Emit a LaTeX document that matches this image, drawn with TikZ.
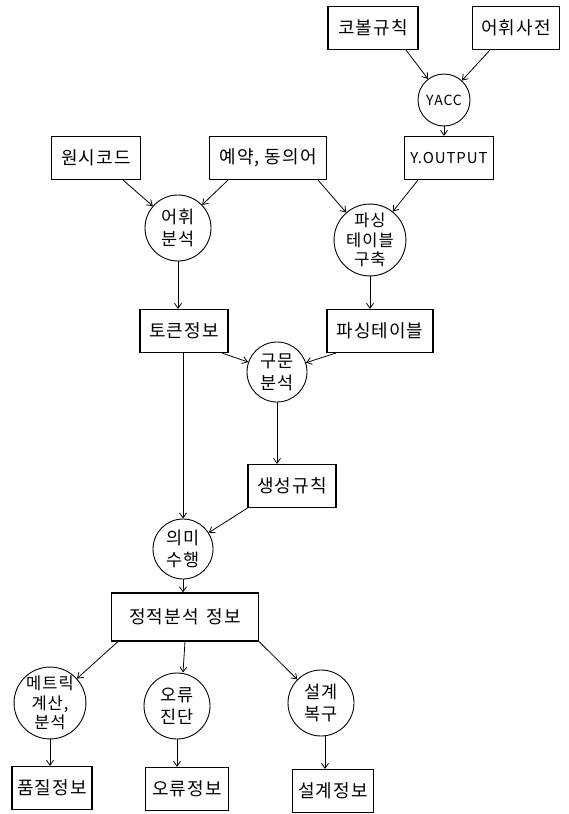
\documentclass[tikz,border=0pt]{standalone}
\usepackage{fontspec}
\setmainfont[LetterSpace=6]{Noto Sans CJK KR}
\usetikzlibrary{arrows.meta}
\tikzset{
  box/.style={draw, line width=1.1pt, inner sep=0pt, minimum height=43pt, font=\fontsize{18}{20}\selectfont},
  circ/.style={draw, circle, line width=0.9pt, inner sep=0pt, align=center, font=\fontsize{17.5}{22}\selectfont},
  arr/.style={-{Straight Barb[length=5pt,width=7pt]}, line width=0.8pt}
}
\begin{document}
\begin{tikzpicture}[x=1pt,y=-1pt]
\useasboundingbox (0,0) rectangle (568,814);
\node[box, minimum width=90pt] (kobol) at (373,28) {코볼규칙};
\node[box, minimum width=87pt] (dict) at (516,28) {어휘사전};
\node[circ, minimum size=52pt, font=\fontsize{14}{15}\selectfont] (yacc) at (444,100) {YACC};
\node[box, minimum width=89pt, font=\fontsize{15}{17}\selectfont] (yout) at (449,158) {Y.OUTPUT};
\node[box, minimum width=89pt] (src) at (96,158) {원시코드};
\node[box, minimum width=117pt] (resv) at (268,158) {예약, 동의어};
\node[circ, minimum size=66pt] (lex) at (178,228) {어휘\\분석};
\node[circ, minimum size=68pt, font=\fontsize{16.5}{19.5}\selectfont] (ptb) at (370,240) {파싱\\테이블\\구축};
\node[box, minimum width=88pt] (tok) at (184,331) {토큰정보};
\node[box, minimum width=106pt] (ptab) at (380,331) {파싱테이블};
\node[circ, minimum size=60pt] (syn) at (277,372) {구문\\분석};
\node[box, minimum width=88pt] (prod) at (292,486) {생성규칙};
\node[circ, minimum size=60pt] (sem) at (183,549) {의미\\수행};
\node[box, minimum width=147pt, minimum height=48pt] (sta) at (185,617) {정적분석\hspace{8pt}정보};
\node[circ, minimum size=66pt, font=\fontsize{16.5}{19.5}\selectfont] (met) at (50,703) {메트릭\\계산,\\분석};
\node[circ, minimum size=66pt] (err) at (177,706) {오류\\진단};
\node[circ, minimum size=66pt] (des) at (321,703) {설계\\복구};
\node[box, minimum width=80pt] (q) at (52,788) {품질정보};
\node[box, minimum width=83pt] (ei) at (187,789) {오류정보};
\node[box, minimum width=81pt] (di) at (333,791) {설계정보};

\draw[arr] ([xshift=33pt]kobol.south) -- (yacc);
\draw[arr] ([xshift=-26pt]dict.south) -- (yacc);
\draw[arr] (yacc.south) -- (yacc.south |- yout.north);
\draw[arr] ([xshift=27pt]src.south) -- (lex);
\draw[arr] ([xshift=-40pt]resv.south) -- (lex);
\draw[arr] ([xshift=50pt]resv.south) -- (ptb);
\draw[arr] ([xshift=-31pt]yout.south) -- (ptb);
\draw[arr] (ptb.south) -- (ptb.south |- ptab.north);
\draw[arr] (lex.south) -- (lex.south |- tok.north);
\draw[arr] ([xshift=38pt]tok.south) -- (syn);
\draw[arr] ([xshift=-44pt]ptab.south) -- (syn);
\draw[arr] (syn.south) -- (syn.south |- prod.north);
\draw[arr] (sem.north |- tok.south) -- (sem.north);
\draw[arr] (prod.south west) -- (sem);
\draw[arr] (sem.south) -- (sem.south |- sta.north);
\draw[arr] ([xshift=7pt]sta.south west) -- (met);
\draw[arr] (sta.south) -- ([xshift=6pt]err.north);
\draw[arr] (sta.south east) -- (des);
\draw[arr] (met.south) -- (met.south |- q.north);
\draw[arr] (err.south) -- (err.south |- ei.north);
\draw[arr] ([xshift=4pt]des.south) -- ([xshift=4pt]des.south |- di.north);
\end{tikzpicture}
\end{document}
